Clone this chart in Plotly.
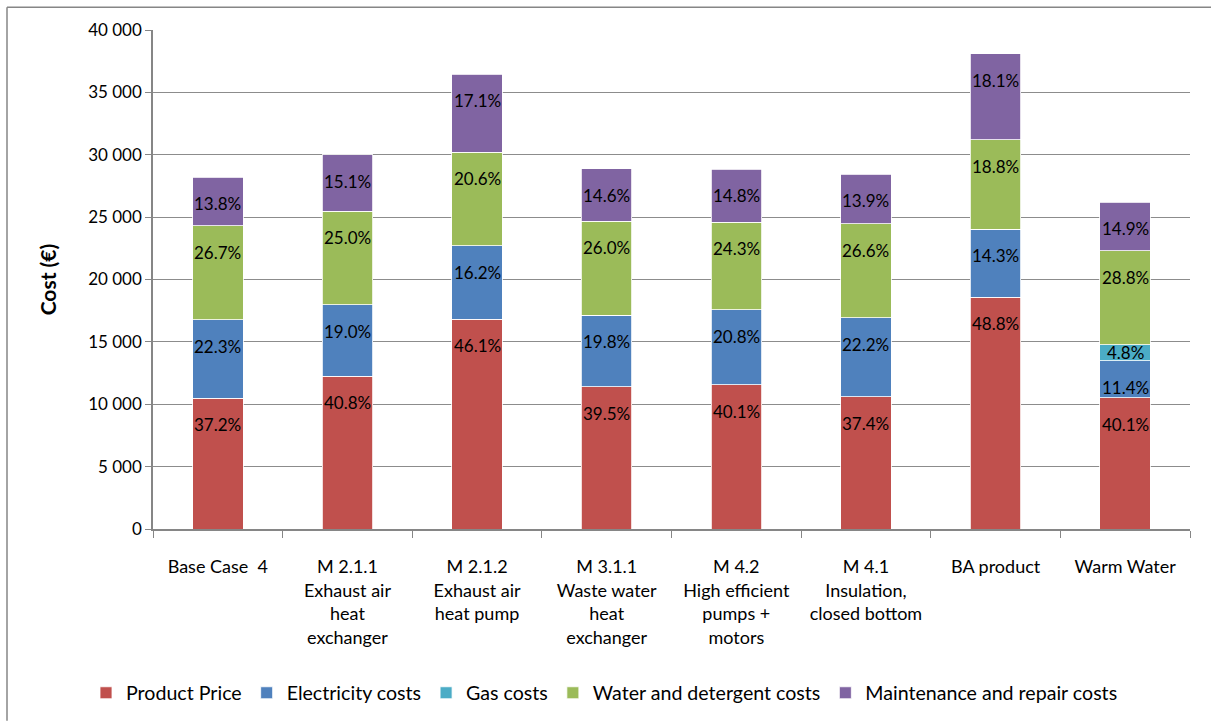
import plotly.graph_objects as go

categories = ["Base Case  4", "M 2.1.1<br>Exhaust air<br>heat<br>exchanger", "M 2.1.2<br>Exhaust air<br>heat pump",
              "M 3.1.1<br>Waste water<br>heat<br>exchanger", "M 4.2<br>High efficient<br>pumps +<br>motors",
              "M 4.1<br>Insulation,<br>closed bottom", "BA product", "Warm Water"]

product_price = [10490, 12260, 16800, 11420, 11570, 10620, 18590, 10510]
electricity = [6290, 5710, 5900, 5720, 6000, 6300, 5450, 2990]
gas = [0, 0, 0, 0, 0, 0, 0, 1260]
water = [7530, 7510, 7510, 7510, 7010, 7550, 7160, 7550]
maintenance = [3890, 4540, 6230, 4220, 4270, 3950, 6900, 3900]

pct_product = ["37.2%", "40.8%", "46.1%", "39.5%", "40.1%", "37.4%", "48.8%", "40.1%"]
pct_elec = ["22.3%", "19.0%", "16.2%", "19.8%", "20.8%", "22.2%", "14.3%", "11.4%"]
pct_gas = ["", "", "", "", "", "", "", "4.8%"]
pct_water = ["26.7%", "25.0%", "20.6%", "26.0%", "24.3%", "26.6%", "18.8%", "28.8%"]
pct_maint = ["13.8%", "15.1%", "17.1%", "14.6%", "14.8%", "13.9%", "18.1%", "14.9%"]

y_ticks = [0, 5000, 10000, 15000, 20000, 25000, 30000, 35000, 40000]
y_tick_labels = ["0", "5 000", "10 000", "15 000", "20 000", "25 000", "30 000", "35 000", "40 000"]

series = [
    ("Product Price", product_price, pct_product, "#C0504D"),
    ("Electricity costs", electricity, pct_elec, "#4F81BD"),
    ("Gas costs", gas, pct_gas, "#4BACC6"),
    ("Water and detergent costs", water, pct_water, "#9BBB59"),
    ("Maintenance and repair costs", maintenance, pct_maint, "#8064A2"),
]

FONT = "Lato, 'Open Sans', sans-serif"

fig = go.Figure()
annotations = []
base = [0] * len(categories)
for name, vals, txt, color in series:
    fig.add_trace(go.Bar(
        name=name, x=categories, y=vals,
        marker=dict(color=color, line=dict(color="white", width=0.8)),
    ))
    for i, (v, t) in enumerate(zip(vals, txt)):
        top = base[i] + v
        if t:
            small = v < 2000
            annotations.append(dict(
                x=categories[i], y=top if not small else base[i] + v / 2,
                xref="x", yref="y", text=t, showarrow=False,
                yanchor="top" if not small else "middle",
                yshift=-14 if not small else 0,
                font=dict(family=FONT, size=17, color="black"),
            ))
        base[i] = top

W, H = 1211, 725
ml, mr, mt, mb = 153, 21, 30, 193
pw = W - ml - mr
ph = H - mt - mb

def px_x(p):
    return (p - ml) / pw

def px_y(p):
    return 1 - (p - mt) / ph

fig.update_layout(
    barmode="stack",
    bargap=0.61,
    width=W, height=H,
    margin=dict(l=ml, r=mr, t=mt, b=mb),
    paper_bgcolor="white", plot_bgcolor="white",
    font=dict(family=FONT, size=17, color="black"),
    showlegend=True,
    legend=dict(orientation="h", x=px_x(86), xanchor="left", y=px_y(697), yanchor="middle",
                font=dict(family=FONT, size=19.6), traceorder="normal",
                itemwidth=30, tracegroupgap=0),
    annotations=annotations,
    xaxis=dict(
        showline=True, linecolor="#868686", linewidth=1.5,
        ticks="outside", tickson="boundaries", ticklen=7, tickcolor="#868686",
        tickfont=dict(family=FONT, size=18),
        ticklabelstandoff=21,
        showgrid=False,
    ),
    yaxis=dict(
        range=[0, 40000], tickvals=y_ticks, ticktext=y_tick_labels,
        showline=True, linecolor="#868686", linewidth=1.5,
        ticks="outside", ticklen=6, tickcolor="#868686",
        showgrid=True, gridcolor="#8C8C8C", gridwidth=1,
        tickfont=dict(family=FONT, size=17),
        title=dict(text="<b>Cost (€)</b>", font=dict(family=FONT, size=21), standoff=26),
        zeroline=False,
    ),
    shapes=[
        dict(type="line", xref="paper", yref="paper", x0=px_x(7), x1=px_x(1211),
             y0=px_y(7), y1=px_y(7), line=dict(color="#868686", width=1.5)),
        dict(type="line", xref="paper", yref="paper", x0=px_x(7), x1=px_x(7),
             y0=px_y(7), y1=px_y(725), line=dict(color="#868686", width=1.5)),
    ],
)

fig.write_html("out.html", config={"displayModeBar": False},
               post_script="document.body.style.margin='0px';document.body.style.overflow='hidden';")
